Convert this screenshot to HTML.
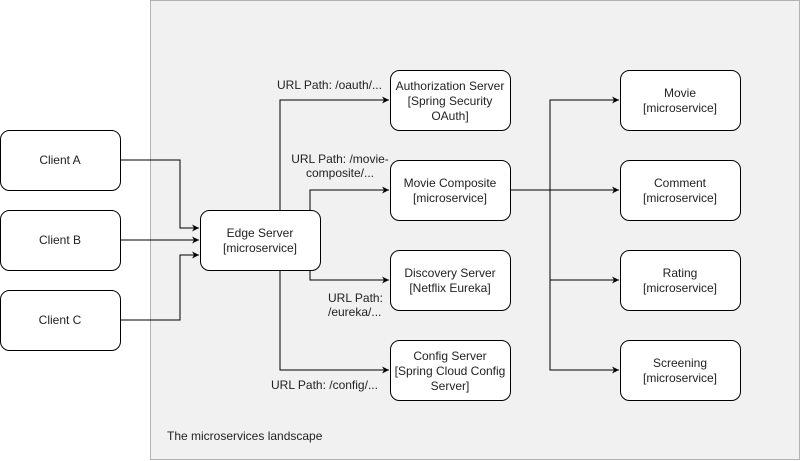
<!DOCTYPE html>
<html><head><meta charset="utf-8"><style>
html,body{margin:0;padding:0;background:#fff;}
svg{display:block;}
text{font-family:"Liberation Sans",Arial,sans-serif;font-size:12px;fill:#222;}
</style></head><body>
<svg width="801" height="461" viewBox="0 0 801 461" xmlns="http://www.w3.org/2000/svg">
<defs><marker id="a" viewBox="0 0 10 10" refX="10" refY="5" markerWidth="7" markerHeight="7" orient="auto" markerUnits="userSpaceOnUse"><path d="M0,0 L10,5 L0,10 L3,5 Z" fill="#000"/></marker></defs>
<rect x="150.5" y="0.5" width="649" height="459" fill="#f1f1f1" stroke="#b3b3b3"/>
<g fill="none" stroke="#000" stroke-width="1">
<path d="M120,160H180V228H199" marker-end="url(#a)"/>
<path d="M120,240H199" marker-end="url(#a)"/>
<path d="M120,320H180V255H199" marker-end="url(#a)"/>
<path d="M280,210V100H389" marker-end="url(#a)"/>
<path d="M310,210V190H389" marker-end="url(#a)"/>
<path d="M310,270V280H389" marker-end="url(#a)"/>
<path d="M280,270V370H389" marker-end="url(#a)"/>
<path d="M510,190H550" />
<path d="M550,190V100H619" marker-end="url(#a)"/>
<path d="M550,190H619" marker-end="url(#a)"/>
<path d="M550,190V280H619" marker-end="url(#a)"/>
<path d="M550,280V370H619" marker-end="url(#a)"/>
</g>
<g fill="#fff" stroke="#000">
<rect x="0.5" y="130.5" width="120" height="60" rx="9"/>
<rect x="0.5" y="210.5" width="120" height="60" rx="9"/>
<rect x="0.5" y="290.5" width="120" height="60" rx="9"/>
<rect x="200.5" y="210.5" width="120" height="60" rx="9"/>
<rect x="390.5" y="70.5" width="120" height="60" rx="9"/>
<rect x="390.5" y="160.5" width="120" height="60" rx="9"/>
<rect x="390.5" y="250.5" width="120" height="60" rx="9"/>
<rect x="390.5" y="340.5" width="120" height="60" rx="9"/>
<rect x="620.5" y="70.5" width="120" height="60" rx="9"/>
<rect x="620.5" y="160.5" width="120" height="60" rx="9"/>
<rect x="620.5" y="250.5" width="120" height="60" rx="9"/>
<rect x="620.5" y="340.5" width="120" height="60" rx="9"/>
</g>
<g text-anchor="middle">
<text x="60" y="164">Client A</text>
<text x="60" y="244">Client B</text>
<text x="60" y="324">Client C</text>
<text x="260" y="237">Edge Server</text><text x="260" y="252">[microservice]</text>
<text x="450" y="90">Authorization Server</text><text x="450" y="105">[Spring Security</text><text x="450" y="120">OAuth]</text>
<text x="450" y="187">Movie Composite</text><text x="450" y="202">[microservice]</text>
<text x="450" y="277">Discovery Server</text><text x="450" y="292">[Netflix Eureka]</text>
<text x="450" y="360">Config Server</text><text x="450" y="375">[Spring Cloud Config</text><text x="450" y="390">Server]</text>
<text x="680" y="97">Movie</text><text x="680" y="112">[microservice]</text>
<text x="680" y="187">Comment</text><text x="680" y="202">[microservice]</text>
<text x="680" y="277">Rating</text><text x="680" y="292">[microservice]</text>
<text x="680" y="367">Screening</text><text x="680" y="382">[microservice]</text>
<text x="340" y="163">URL Path: /movie-</text><text x="340" y="177">composite/...</text>
</g>
<text x="277" y="89">URL Path: /oauth/...</text>
<text x="328" y="302">URL Path:</text><text x="328" y="316">/eureka/...</text>
<text x="271" y="389">URL Path: /config/...</text>
<text x="167" y="440">The microservices landscape</text>
</svg>
</body></html>
